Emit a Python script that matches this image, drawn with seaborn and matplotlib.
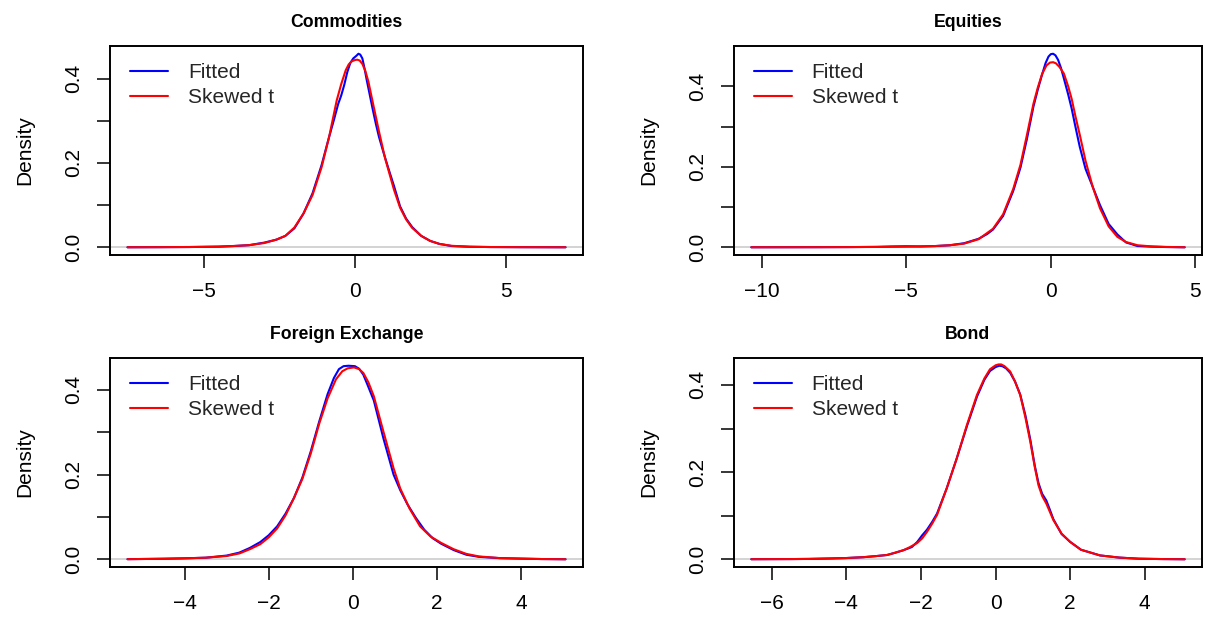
import numpy as np
import pandas as pd
import matplotlib
matplotlib.use("Agg")
import matplotlib.pyplot as plt
import seaborn as sns

# ---- density curves per asset class ----
panel_titles = ["Commodities", "Equities", "Foreign Exchange", "Bond"]
series_names = ["Fitted", "Skewed t"]

cm_x_fit = [-7.53, -6.5, -5.5, -4.5, -4.0, -3.5, -3.0, -2.6, -2.3, -2.0, -1.7, -1.4, -1.1, -0.85, -0.7,
            -0.55, -0.45, -0.35, -0.25, -0.15, -0.05, 0.05, 0.12, 0.18, 0.25, 0.32, 0.4, 0.5, 0.6, 0.7,
            0.8, 0.95, 1.1, 1.3, 1.5, 1.7, 1.9, 2.2, 2.5, 2.8, 3.2, 3.8, 4.5, 5.5, 6.98]
cm_y_fit = [0.0, 0.0002, 0.0005, 0.0015, 0.003, 0.005, 0.011, 0.018, 0.027, 0.045, 0.080, 0.128, 0.195,
            0.262, 0.300, 0.340, 0.360, 0.385, 0.415, 0.437, 0.448, 0.454, 0.459, 0.457, 0.448, 0.425,
            0.395, 0.360, 0.325, 0.292, 0.262, 0.225, 0.190, 0.145, 0.097, 0.068, 0.048, 0.027, 0.015,
            0.008, 0.003, 0.0012, 0.0005, 0.0002, 0.0]
cm_x_st = [-7.53, -6.5, -5.5, -4.5, -4.0, -3.5, -3.0, -2.6, -2.3, -2.0, -1.7, -1.4, -1.1, -0.85, -0.6,
           -0.45, -0.3, -0.2, -0.1, 0.0, 0.08, 0.16, 0.25, 0.35, 0.45, 0.6, 0.8, 1.0, 1.3, 1.5, 1.7, 1.9,
           2.2, 2.5, 2.8, 3.2, 3.8, 4.5, 5.5, 6.98]
cm_y_st = [0.0, 0.0002, 0.0006, 0.0015, 0.003, 0.005, 0.010, 0.018, 0.027, 0.047, 0.080, 0.124, 0.190,
           0.262, 0.348, 0.387, 0.420, 0.434, 0.441, 0.444, 0.445, 0.443, 0.435, 0.418, 0.393, 0.342,
           0.275, 0.212, 0.136, 0.094, 0.066, 0.046, 0.027, 0.015, 0.008, 0.0035, 0.0013, 0.0005,
           0.0002, 0.0]

eq_x_fit = [-10.36, -9, -8, -7, -6, -5.5, -5, -4.5, -4, -3.5, -3.0, -2.5, -2.2, -2.0, -1.65, -1.3, -1.05,
            -0.83, -0.6, -0.45, -0.3, -0.18, -0.08, 0.0, 0.08, 0.16, 0.25, 0.35, 0.45, 0.6, 0.72, 0.85,
            1.0, 1.2, 1.45, 1.7, 2.0, 2.3, 2.6, 3.0, 3.5, 4.0, 4.63]
eq_y_fit = [0.0, 0.0001, 0.0002, 0.0004, 0.001, 0.002, 0.0025, 0.002, 0.003, 0.005, 0.010, 0.021, 0.033,
            0.044, 0.078, 0.140, 0.198, 0.268, 0.350, 0.392, 0.430, 0.458, 0.474, 0.480, 0.481, 0.477,
            0.466, 0.446, 0.420, 0.380, 0.345, 0.300, 0.250, 0.195, 0.150, 0.105, 0.058, 0.032, 0.012,
            0.003, 0.0015, 0.0005, 0.0]
eq_x_st = [-10.36, -9, -8, -7, -6, -5, -4.5, -4, -3.5, -3.0, -2.5, -2.0, -1.65, -1.3, -1.05, -0.83, -0.6,
           -0.45, -0.3, -0.15, -0.03, 0.08, 0.18, 0.3, 0.45, 0.6, 0.72, 0.85, 1.0, 1.2, 1.45, 1.7, 2.0,
           2.3, 2.6, 3.0, 3.5, 4.0, 4.63]
eq_y_st = [0.0, 0.0001, 0.0002, 0.0004, 0.0008, 0.0015, 0.0022, 0.003, 0.005, 0.009, 0.020, 0.046, 0.082,
           0.145, 0.205, 0.278, 0.357, 0.397, 0.431, 0.452, 0.459, 0.460, 0.457, 0.448, 0.432, 0.400,
           0.369, 0.326, 0.280, 0.215, 0.150, 0.097, 0.052, 0.026, 0.013, 0.005, 0.002, 0.0008, 0.0]

fx_x_fit = [-5.36, -4.5, -4.0, -3.5, -3.0, -2.7, -2.45, -2.2, -2.0, -1.8, -1.6, -1.4, -1.2, -1.0, -0.8,
            -0.6, -0.45, -0.33, -0.22, -0.1, 0.05, 0.15, 0.25, 0.35, 0.5, 0.73, 0.97, 1.13, 1.3, 1.5, 1.7,
            1.9, 2.1, 2.4, 2.7, 3.0, 3.5, 4.0, 4.5, 5.06]
fx_y_fit = [0.0005, 0.0015, 0.0025, 0.004, 0.009, 0.016, 0.027, 0.041, 0.057, 0.078, 0.108, 0.145, 0.193,
            0.255, 0.325, 0.390, 0.428, 0.449, 0.456, 0.457, 0.456, 0.450, 0.436, 0.412, 0.375, 0.285,
            0.200, 0.163, 0.130, 0.098, 0.070, 0.050, 0.037, 0.022, 0.011, 0.006, 0.003, 0.0018, 0.0008,
            0.0003]
fx_x_st = [-5.36, -4.5, -4.0, -3.5, -3.0, -2.7, -2.45, -2.2, -2.0, -1.8, -1.6, -1.4, -1.2, -1.0, -0.8,
           -0.6, -0.4, -0.25, -0.12, 0.03, 0.15, 0.25, 0.37, 0.5, 0.73, 0.97, 1.13, 1.35, 1.6, 1.85, 2.1,
           2.4, 2.7, 3.0, 3.5, 4.0, 4.5, 5.06]
fx_y_st = [0.0005, 0.0015, 0.0025, 0.004, 0.008, 0.014, 0.024, 0.036, 0.052, 0.073, 0.104, 0.145, 0.190,
           0.250, 0.320, 0.380, 0.425, 0.444, 0.451, 0.453, 0.449, 0.440, 0.418, 0.385, 0.301, 0.215,
           0.167, 0.120, 0.078, 0.054, 0.039, 0.024, 0.013, 0.007, 0.003, 0.0018, 0.0008, 0.0003]

bd_x_fit = [-6.55, -5.5, -5.0, -4.43, -4.0, -3.54, -3.2, -2.91, -2.7, -2.47, -2.25, -2.1, -1.97, -1.84,
            -1.7, -1.57, -1.31, -1.04, -0.77, -0.5, -0.3, -0.15, 0.0, 0.1, 0.18, 0.28, 0.39, 0.52, 0.66,
            0.8, 0.93, 1.05, 1.15, 1.25, 1.36, 1.45, 1.55, 1.77, 2.0, 2.29, 2.8, 3.32, 3.84, 4.5, 5.07]
bd_y_fit = [0.0003, 0.0006, 0.001, 0.002, 0.003, 0.005, 0.0075, 0.010, 0.015, 0.021, 0.028, 0.040, 0.055,
            0.068, 0.086, 0.105, 0.163, 0.232, 0.305, 0.373, 0.412, 0.432, 0.441, 0.444, 0.443, 0.438,
            0.428, 0.408, 0.378, 0.330, 0.275, 0.215, 0.175, 0.150, 0.135, 0.115, 0.092, 0.058, 0.040,
            0.022, 0.009, 0.004, 0.0015, 0.0006, 0.0002]
bd_x_st = [-6.55, -5.5, -5.0, -4.43, -4.0, -3.54, -3.2, -2.91, -2.7, -2.47, -2.3, -2.11, -1.97, -1.84,
           -1.7, -1.57, -1.31, -1.04, -0.77, -0.5, -0.3, -0.15, 0.0, 0.08, 0.15, 0.24, 0.39, 0.52, 0.66,
           0.8, 0.93, 1.05, 1.15, 1.25, 1.36, 1.45, 1.55, 1.77, 2.0, 2.29, 2.8, 3.32, 3.84, 4.5, 5.07]
bd_y_st = [0.0003, 0.0006, 0.001, 0.002, 0.003, 0.005, 0.0075, 0.010, 0.015, 0.021, 0.028, 0.037, 0.048,
           0.063, 0.082, 0.102, 0.163, 0.232, 0.308, 0.377, 0.415, 0.436, 0.445, 0.447, 0.447, 0.443,
           0.431, 0.408, 0.377, 0.325, 0.270, 0.212, 0.170, 0.145, 0.128, 0.110, 0.090, 0.059, 0.040,
           0.022, 0.009, 0.004, 0.0015, 0.0006, 0.0002]

x_ticks = [[-5, 0, 5], [-10, -5, 0, 5], [-4, -2, 0, 2, 4], [-6, -4, -2, 0, 2, 4]]
y_ticks = [0.0, 0.1, 0.2, 0.3, 0.4]
y_tick_labels = ["0.0", "", "0.2", "", "0.4"]

curves = [
    (cm_x_fit, cm_y_fit, cm_x_st, cm_y_st),
    (eq_x_fit, eq_y_fit, eq_x_st, eq_y_st),
    (fx_x_fit, fx_y_fit, fx_x_st, fx_y_st),
    (bd_x_fit, bd_y_fit, bd_x_st, bd_y_st),
]

# ---- styling ----
sns.set_theme(style="white")
plt.rcParams["font.family"] = ["Liberation Sans", "DejaVu Sans"]
plt.rcParams["axes.edgecolor"] = "black"
plt.rcParams["axes.linewidth"] = 1.4

W, H = 1205, 618
fig = plt.figure(figsize=(W / 100, H / 100), dpi=100)

# axes boxes in pixels: (left, top, right, bottom)
boxes = [(110, 46, 583, 255), (734, 46, 1202, 255),
         (110, 358, 583, 567), (734, 358, 1202, 567)]

palette = {"Fitted": "#0000FF", "Skewed t": "#FF0000"}

for i, (title, (xf, yf, xs, ys)) in enumerate(zip(panel_titles, curves)):
    l, t, r, b = boxes[i]
    ax = fig.add_axes([l / W, 1 - b / H, (r - l) / W, (b - t) / H])

    df = pd.concat([
        pd.DataFrame({"x": xf, "y": yf, "series": series_names[0]}),
        pd.DataFrame({"x": xs, "y": ys, "series": series_names[1]}),
    ], ignore_index=True)

    ax.axhline(0, color="#CCCCCC", lw=1.2, zorder=0)
    sns.lineplot(data=df, x="x", y="y", hue="series", palette=palette,
                 estimator=None, sort=True, lw=1.5, ax=ax)
    for ln in ax.get_lines():
        ln.set_solid_joinstyle("round")

    xr = max(xf) - min(xf)
    yr = max(yf) - min(yf)
    ax.set_xlim(min(xf) - 0.04 * xr, max(xf) + 0.04 * xr)
    ax.set_ylim(min(yf) - 0.04 * yr, max(yf) + 0.04 * yr)

    ax.set_xticks(x_ticks[i])
    ax.set_xticklabels([f"{v}".replace("-", "\u2212") for v in x_ticks[i]])
    ax.set_yticks(y_ticks)
    ax.set_yticklabels(y_tick_labels, rotation=90, va="center")
    ax.tick_params(axis="both", direction="out", length=9.6, width=1.1,
                   labelsize=15, color="black", labelcolor="black",
                   bottom=True, left=True)
    ax.tick_params(axis="x", pad=10)
    ax.tick_params(axis="y", pad=9.4)

    ax.set_xlabel("")
    ax.set_ylabel("Density", fontsize=15, labelpad=21.5, color="black")
    ax.set_title(title, fontsize=12.7, fontweight="bold", pad=14, color="black")

    for sp in ax.spines.values():
        sp.set_visible(True)
        sp.set_color("black")

    ax.legend(loc="upper left", bbox_to_anchor=(0.042, 0.919), frameon=False,
              fontsize=15, handlelength=1.85, handletextpad=0.93,
              labelspacing=0.29, borderaxespad=0, borderpad=0)

fig.savefig("out.png", dpi=100)
